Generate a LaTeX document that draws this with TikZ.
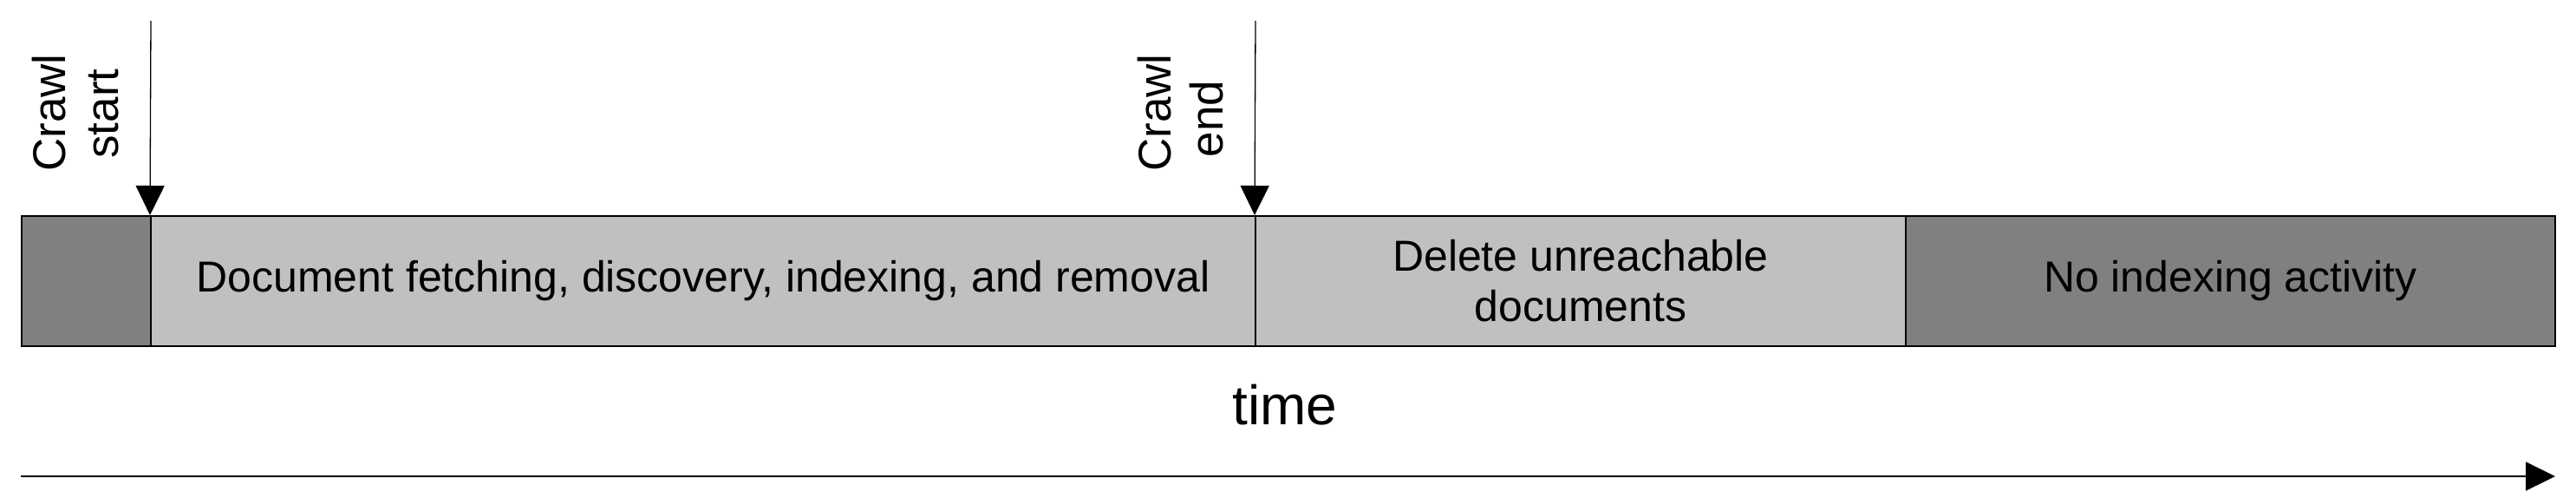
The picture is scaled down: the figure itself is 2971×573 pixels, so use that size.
\documentclass[tikz,border=0pt]{standalone}
\usepackage{fontspec}
\setmainfont{Liberation Sans}
\usetikzlibrary{arrows.meta}
\begin{document}
\begin{tikzpicture}[x=1pt,y=-1pt,
  seg/.style={draw=black, line width=2pt, inner sep=0pt, minimum height=150pt, align=center,
    font=\fontsize{50}{58}\selectfont},
  darkseg/.style={seg, fill={rgb,255:red,128;green,128;blue,128}},
  lightseg/.style={seg, fill={rgb,255:red,192;green,192;blue,192}},
  vlabel/.style={rotate=90, anchor=base, inner sep=0pt, font=\fontsize{53}{61}\selectfont},
  marker/.style={line width=1.3pt, -{Triangle[width=33pt,length=34pt]}},
  timeline/.style={line width=2pt, -{Triangle[width=33pt,length=34pt]}}]
\useasboundingbox (0,0) rectangle (2971,573);
% bar segments
\node[darkseg, minimum width=149.5pt] (pre) at (99.25,324) {};
\node[lightseg, minimum width=1274pt] (fetch) at (811,324) {Document fetching, discovery, indexing, and removal};
\node[lightseg, minimum width=750pt] (delete) at (1823,324) {Delete unreachable\\documents};
\node[darkseg, minimum width=749pt] (idle) at (2572.5,324) {No indexing activity};
% markers
\coordinate (startTop) at (174,24);
\coordinate (endTop) at (1448,24);
\draw[marker] (startTop) -- (fetch.north west);
\draw[marker] (endTop) -- (delete.north west);
\node[vlabel] (cs1) at (75,130) {Crawl};
\node[vlabel] (cs2) at (136,131) {start};
\node[vlabel] (ce1) at (1350,130) {Crawl};
\node[vlabel] (ce2) at (1410,137) {end};
% time axis
\node[anchor=base, inner sep=0pt, font=\fontsize{64}{70}\selectfont] (time) at (1482,489) {time};
\coordinate (tA) at (24,549);
\coordinate (tB) at (2947,549);
\draw[timeline] (tA) -- (tB);
\end{tikzpicture}
\end{document}
